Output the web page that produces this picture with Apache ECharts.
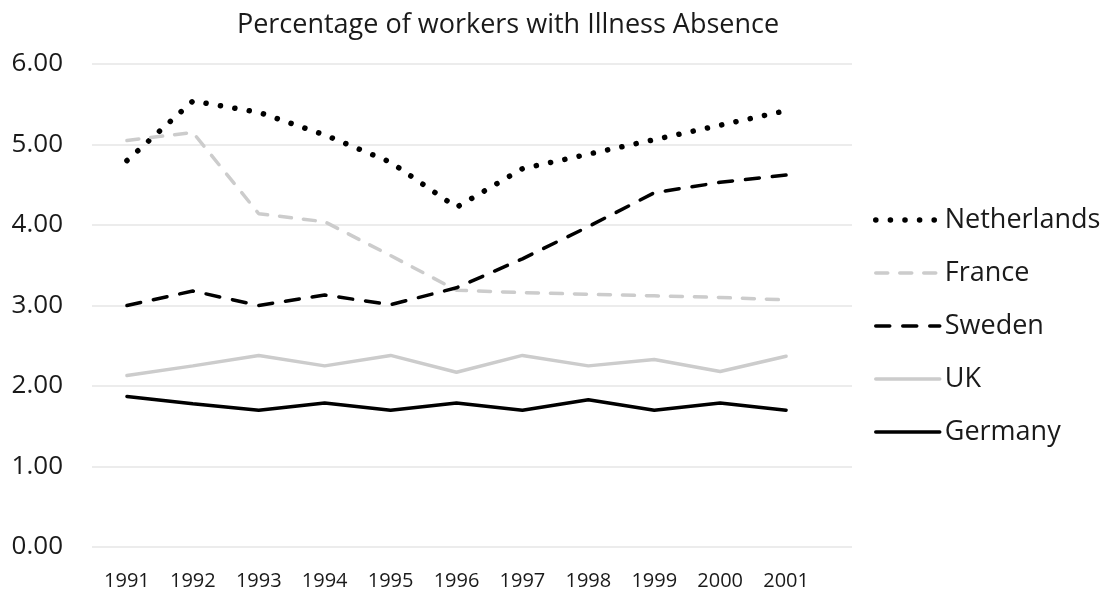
<!DOCTYPE html>
<html>
<head>
<meta charset="utf-8">
<script src="https://cdn.jsdelivr.net/npm/echarts@6/dist/echarts.min.js"></script>
<style>
  html, body { margin: 0; padding: 0; background: #fff; }
  #chart { width: 1110px; height: 597px; }
</style>
</head>
<body>
<div id="chart"></div>
<script>
// data
var years = [1991, 1992, 1993, 1994, 1995, 1996, 1997, 1998, 1999, 2000, 2001];
var netherlands = [4.80, 5.54, 5.40, 5.12, 4.78, 4.22, 4.70, 4.88, 5.06, 5.24, 5.42];
var france = [5.05, 5.15, 4.14, 4.04, 3.62, 3.19, 3.16, 3.14, 3.12, 3.10, 3.07];
var sweden = [3.00, 3.18, 3.00, 3.13, 3.01, 3.22, 3.58, 3.98, 4.40, 4.53, 4.62];
var uk = [2.13, 2.25, 2.38, 2.25, 2.38, 2.17, 2.38, 2.25, 2.33, 2.18, 2.37];
var germany = [1.87, 1.78, 1.70, 1.79, 1.70, 1.79, 1.70, 1.83, 1.70, 1.79, 1.70];
var yTicks = [0, 1, 2, 3, 4, 5, 6];

var FONT = '"Open Sans", "Noto Sans", sans-serif';

function pairs(vals) {
    return years.map(function (y, i) { return [y, vals[i]]; });
}

// all lines use round caps, dash lengths are shortened by the line width to compensate
function lineSeries(name, vals, color, type, width) {
    return {
        name: name,
        type: 'line',
        data: pairs(vals),
        symbol: 'none',
        silent: true,
        lineStyle: { color: color, width: width, type: type, cap: 'round' },
        itemStyle: { color: color }
    };
}

var chart = echarts.init(document.getElementById('chart'), null, { renderer: 'canvas' });

chart.setOption({
    animation: false,
    backgroundColor: '#ffffff',
    title: {
        text: 'Percentage of workers with Illness Absence',
        left: 503,
        textAlign: 'center',
        top: 7,
        textStyle: { fontFamily: FONT, fontSize: 27, fontWeight: 'normal', color: '#1a1a1a' }
    },
    grid: { left: 92, right: 258, top: 64, bottom: 50 },
    legend: {
        orient: 'vertical',
        left: 868,
        top: 201,
        itemWidth: 64,
        itemHeight: 14,
        itemGap: 25,
        selectedMode: false,
        itemStyle: { opacity: 0 },
        lineStyle: { cap: 'round', width: 'inherit' },
        textStyle: { fontFamily: FONT, fontSize: 27, color: '#1a1a1a', lineHeight: 28 },
        data: ['Netherlands', 'France', 'Sweden', 'UK', 'Germany']
    },
    xAxis: {
        type: 'value',
        min: 1990.47,
        max: 2002.0,
        axisLine: { show: false },
        axisTick: { show: false },
        splitLine: { show: false },
        axisLabel: {
            customValues: years,
            fontFamily: FONT,
            fontSize: 20,
            color: '#1a1a1a',
            margin: 24,
            formatter: function (v) { return String(Math.round(v)); }
        }
    },
    yAxis: {
        type: 'value',
        min: yTicks[0],
        max: yTicks[yTicks.length - 1],
        interval: 1,
        axisLine: { show: false },
        axisTick: { show: false },
        splitLine: { lineStyle: { color: '#e6e6e6', width: 1.5 } },
        axisLabel: {
            fontFamily: FONT,
            fontSize: 26,
            color: '#1a1a1a',
            margin: 29,
            formatter: function (v) { return v.toFixed(2); }
        }
    },
    series: [
        lineSeries('Netherlands', netherlands, '#000000', [0.1, 14.5], 5.5),
        lineSeries('France', france, '#cccccc', [12, 12], 3.5),
        lineSeries('Sweden', sweden, '#000000', [14, 13], 3.5),
        lineSeries('UK', uk, '#cccccc', 'solid', 3.5),
        lineSeries('Germany', germany, '#000000', 'solid', 3.5)
    ]
});
</script>
</body>
</html>
